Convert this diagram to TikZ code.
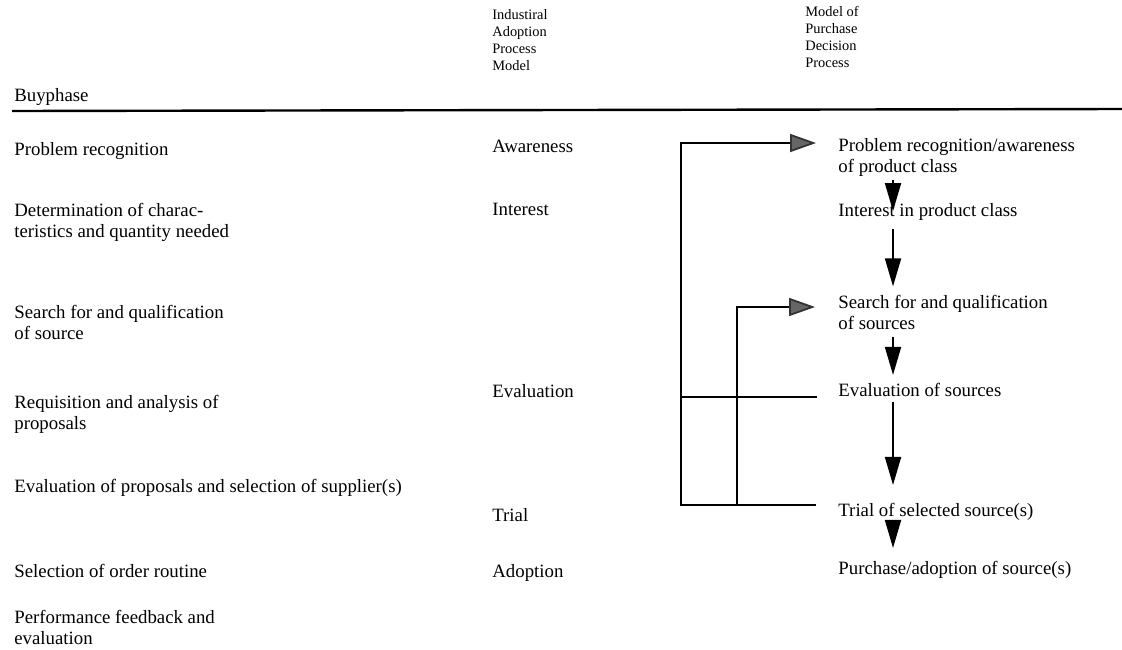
\documentclass[tikz,border=0pt]{standalone}
\usepackage{fontspec}
\setmainfont{Liberation Serif}
\usetikzlibrary{positioning,calc,arrows.meta}

\begin{document}
\begin{tikzpicture}[x=0.5pt,y=-0.5pt]
        \tikzstyle{txt}=[anchor=west, inner sep=0pt, align=left, font=\fontsize{9.4}{10.5}\selectfont]
        \tikzstyle{hd}=[anchor=west, inner sep=0pt, align=left, font=\fontsize{7.2}{8.5}\selectfont]
        \tikzstyle{dar}=[line width=0.9pt, -{Triangle[length=14pt,width=8pt]}]
        \tikzstyle{far}=[line width=0.9pt, -{Triangle[length=13pt,width=9pt,fill=black!60,color=black!80]}]

        \useasboundingbox (0,0) rectangle (1122,649);

        % headings
        \node[txt] (bp)  at (14,97)  {Buyphase};
        \node[hd]  (hia) at (492,40) {Industiral\\Adoption\\Process\\Model};
        \node[hd]  (hpd) at (805,37) {Model of\\Purchase\\Decision\\Process};
        \draw[line width=1.2pt] (12,111) -- (1122,109);

        % buyphases
        \node[txt] (b1) at (14,151) {Problem recognition};
        \node[txt] (b2) at (14,222) {Determination of charac-\\teristics and quantity needed};
        \node[txt] (b3) at (14,322) {Search for and qualification\\of source};
        \node[txt] (b4) at (14,414) {Requisition and analysis of\\proposals};
        \node[txt] (b5) at (14,488) {Evaluation of proposals and selection of supplier(s)};
        \node[txt] (b6) at (14,571) {Selection of order routine};
        \node[txt] (b7) at (14,627) {Performance feedback and\\evaluation};

        % adoption model
        \node[txt] (aw) at (492,146) {Awareness};
        \node[txt] (in) at (492,209) {Interest};
        \node[txt] (ev) at (492,391) {Evaluation};
        \node[txt] (tr) at (492,515) {Trial};
        \node[txt] (ad) at (492,573) {Adoption};

        % purchase decision model
        \node[txt] (pc) at (838,157) {Problem recognition/awareness\\of product class};
        \node[txt] (ip) at (838,212) {Interest in product class};
        \node[txt] (sq) at (838,312) {Search for and qualification\\of sources};
        \node[txt] (es) at (838,390) {Evaluation of sources};
        \node[txt] (ts) at (838,512) {Trial of selected source(s)};
        \node[txt] (pa) at (838,570) {Purchase/adoption of source(s)};

        \coordinate (ax) at (893,0);
        \draw[dar, shorten <=2pt, shorten >=-4pt] (pc.south -| ax) -- (ip.north -| ax);
        \draw[dar, shorten <=4pt, shorten >=4pt] (ip.south -| ax) -- (sq.north -| ax);
        \draw[dar, shorten <=3.5pt, shorten >=4pt] (sq.south -| ax) -- (es.north -| ax);
        \draw[dar, shorten <=2.5pt, shorten >=9pt] (es.south -| ax) -- (ts.north -| ax);
        \draw[dar, shorten <=-1pt, shorten >=6.5pt] (ts.south -| ax) -- (pa.north -| ax);

        % feedback loops
        \coordinate (lx) at (681,0);
        \coordinate (mx) at (737,0);
        \coordinate (tT) at (816,505);
        \coordinate (tE) at (817,397);
        \coordinate (hP) at (816,143);
        \coordinate (hS) at (815,307);
        \draw[far] (tT) -- (tT -| lx) |- (hP);
        \draw[line width=0.9pt] (tE) -- (tE -| lx);
        \draw[far] (tT -| mx) |- (hS);
    \end{tikzpicture}
\end{document}
